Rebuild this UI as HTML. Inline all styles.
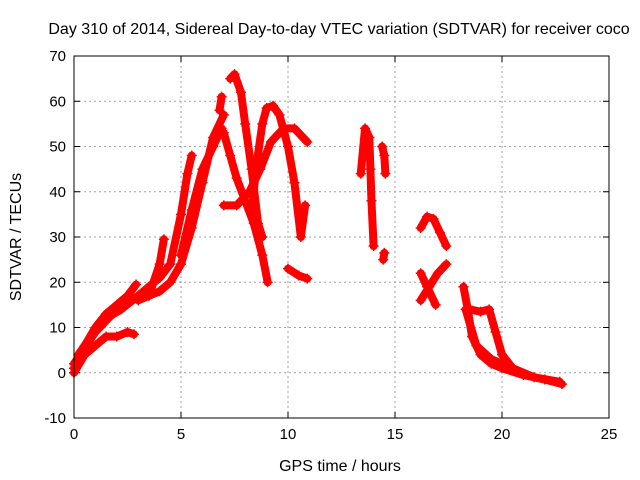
<!DOCTYPE html>
<html><head><meta charset="utf-8"><style>
body{margin:0;background:#fff}
svg{display:block;font-family:"Liberation Sans",sans-serif}
</style></head><body>
<svg id="chart" width="640" height="480">
<text x="339" y="34" font-size="16" text-anchor="middle">Day 310 of 2014, Sidereal Day-to-day VTEC variation (SDTVAR) for receiver coco</text>
<text x="340" y="471" font-size="16" text-anchor="middle">GPS time / hours</text>
<text transform="translate(21,237) rotate(-90)" font-size="16" text-anchor="middle">SDTVAR / TECUs</text>
<g id="grid"></g><g id="marks"></g>
<rect x="74" y="56" width="535" height="362" fill="none" stroke="#000"/>
</svg>
<script>
const xTicks=[0,5,10,15,20,25];
const yTicks=[-10,0,10,20,30,40,50,60,70];
const trackX=[
[0,0.5,1,1.5,2,2.5,2.8],
[0,0.5,1,1.5,2,2.5,2.9],
[0,1,2,3,4,4.5,5,5.3,5.5],
[3,4,4.5,5,5.5,6,6.5,7],
[3.5,4,4.2],
[6.8,6.9],
[7.3,7.5,7.8,8,8.3,8.6,8.8],
[8.3,8.5,8.8,9,9.3,9.6,10,10.3,10.6,10.8],
[7,7.6,8.2,8.7,9.2,9.8,10.3,10.9],
[7,7.3,7.6,8,8.4,8.8,9.05],
[10,10.5,10.9],
[13.4,13.6,13.8,13.85,13.9,14],
[14.4,14.5,14.55],
[14.45,14.5],
[16.2,16.5,16.8,17.1,17.4],
[16.2,16.5,16.9],
[16.2,16.6,17,17.4],
[18.2,18.4,18.6,19,19.5,20,21,22,22.8],
[18.5,19,19.4,19.7,20,20.5],
[18.3,18.8,19.5,20.5,21.5,22.7],
[5,5.5,6,6.5,6.9],
[0.2,0.8,1.5,2.2,3]
];
const trackY=[
[0,4,6,8,8,9,8.5],
[1,6,10,13,15,17,19.5],
[2,9,14,17,21,24,35,44,48],
[16,18,20,24,32,42,52,57],
[17,24,29.5],
[58,61],
[65,66,62,55,45,33,30],
[35,45,55,58.5,59,57,50,42,30,37],
[37,37,40,45,51,54,54,51],
[53,48,43,38,33,26,20],
[23,21.5,20.8],
[44,54,52,45,38,28],
[50,48,44],
[25,26.5],
[32,34.5,34,31,28],
[22,19,15],
[16,19,22,24],
[19,14,8,4,2,1,-0.5,-1.5,-2.5],
[14,13.5,14,9,4,1],
[14,6,3,1,-1,-2],
[26,36,45,50,54],
[4,8,12,14,17]
];
const X0=74,X1=609,Y0=418,Y1=56,xmin=0,xmax=25,ymin=-10,ymax=70;
const sx=v=>X0+(v-xmin)/(xmax-xmin)*(X1-X0);
const sy=v=>Y0-(v-ymin)/(ymax-ymin)*(Y0-Y1);
const NS="http://www.w3.org/2000/svg";
const grid=document.getElementById('grid'),marks=document.getElementById('marks');
function mk(tag,attrs,parent){const e=document.createElementNS(NS,tag);for(const k in attrs)e.setAttribute(k,attrs[k]);parent.appendChild(e);return e;}
xTicks.forEach(t=>{
 const x=sx(t);
 if(t>xmin&&t<xmax){const g=mk('line',{x1:x,x2:x,y1:Y1,y2:Y0,stroke:'#a0a0a0','stroke-dasharray':'2,3'},grid);
 
 }
 const tk=mk('path',{d:`M${x},${Y0}v-6M${x},${Y1}v6`,stroke:'#000'},grid);
 
 
 const l=mk('text',{x:x,y:Y0+21,'font-size':15,'text-anchor':'middle'},grid);l.textContent=t;
 
 
});
yTicks.forEach(t=>{
 const y=sy(t);
 if(t>ymin&&t<ymax){const g=mk('line',{x1:X0,x2:X1,y1:y,y2:y,stroke:'#a0a0a0','stroke-dasharray':'2,3'},grid);
 
 }
 const tk=mk('path',{d:`M${X0},${y}h6M${X1},${y}h-6`,stroke:'#000'},grid);
 
 
 const l=mk('text',{x:X0-8,y:y+5,'font-size':15,'text-anchor':'end'},grid);l.textContent=t;
 
 
});
trackX.forEach((xs,i)=>{
 const ys=trackY[i];
 const pts=xs.map((x,j)=>sx(x)+','+sy(ys[j])).join(' ');
 const pl=mk('polyline',{points:pts,fill:'none',stroke:'#f00','stroke-width':8,'stroke-linejoin':'round','stroke-linecap':'round'},marks);
 
 
 xs.forEach((x,j)=>{
  const px=sx(x),py=sy(ys[j]);
  const p=mk('path',{d:`M${px-5},${py}h10M${px},${py-5}v10`,stroke:'#f00','stroke-width':1.5},marks);
  
  
 });
});
</script>
</body></html>
